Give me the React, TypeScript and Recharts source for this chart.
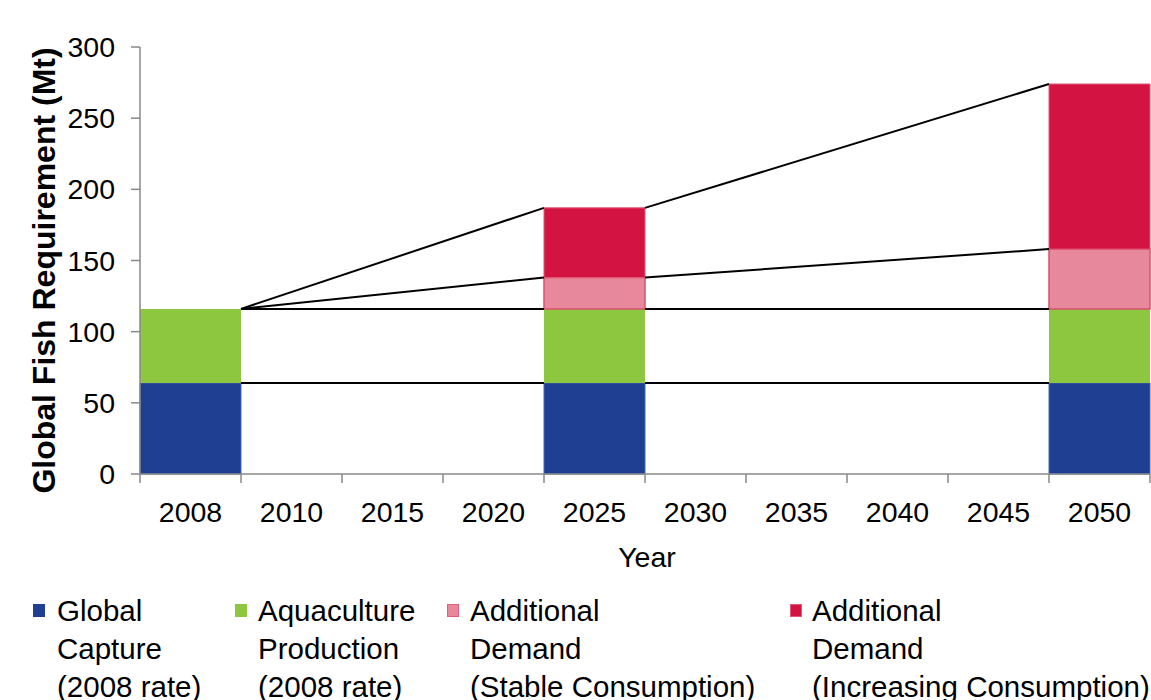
import React from 'react';
import { ComposedChart, Bar, Line, XAxis, YAxis, Label } from 'recharts';

// categories on the x axis
const years = ['2008', '2010', '2015', '2020', '2025', '2030', '2035', '2040', '2045', '2050'];

// stacked values (Mt), null where no bar is drawn
const captureValues = [64, null, null, null, 64, null, null, null, null, 64];
const aquacultureValues = [52, null, null, null, 52, null, null, null, null, 52];
const stableValues = [0, null, null, null, 22, null, null, null, null, 42];
const increasingValues = [0, null, null, null, 49, null, null, null, null, 116];

const yTicks = [0, 50, 100, 150, 200, 250, 300];

const FONT = '"Liberation Sans", Arial, sans-serif';
const W = 1151;
const H = 700;
const PLOT_LEFT = 140;
const PLOT_RIGHT = 1150;
const BAND = (PLOT_RIGHT - PLOT_LEFT) / years.length;

const COLORS = {
  capture: '#1f3f93',
  aqua: '#8dc63f',
  stable: '#e8889c',
  increasing: '#d31442',
};

const legendItems = [
  { color: COLORS.capture, lines: ['Global', 'Capture', '(2008 rate)'], mx: 33, tx: 57 },
  { color: COLORS.aqua, lines: ['Aquaculture', 'Production', '(2008 rate)'], mx: 235, tx: 258 },
  { color: COLORS.stable, border: '#e0607c', lines: ['Additional', 'Demand', '(Stable Consumption)'], mx: 447, tx: 470 },
  { color: COLORS.increasing, border: '#e35878', lines: ['Additional', 'Demand', '(Increasing Consumption)'], mx: 790, tx: 812 },
];

const data = years.map((year, i) => ({
  year,
  capture: captureValues[i],
  aqua: aquacultureValues[i],
  stable: stableValues[i] || null,
  increasing: increasingValues[i] || null,
}));

// cumulative levels for each bar year
const barIdx = years.map((_, i) => i).filter((i) => captureValues[i] != null);
const levels = (i: number) => {
  const c = captureValues[i] as number;
  const a = c + (aquacultureValues[i] as number);
  const s = a + (stableValues[i] as number);
  const t = s + (increasingValues[i] as number);
  return [c, a, s, t];
};

// connector segments from right edge of one bar to left edge of the next
const connectors: { x: number; y: number }[][] = [];
for (let k = 0; k < barIdx.length - 1; k++) {
  const from = barIdx[k];
  const to = barIdx[k + 1];
  const lf = levels(from);
  const lt = levels(to);
  for (let j = 0; j < 4; j++) {
    connectors.push([
      { x: from + 1, y: lf[j] },
      { x: to, y: lt[j] },
    ]);
  }
}

const XTick = (props: any) => {
  const { x, y, payload, index } = props;
  const left = x - BAND / 2;
  return (
    <g>
      <line x1={left} y1={y} x2={left} y2={y + 9} stroke="#888" strokeWidth={1.5} />
      {index === years.length - 1 && (
        <line x1={x + BAND / 2} y1={y} x2={x + BAND / 2} y2={y + 9} stroke="#888" strokeWidth={1.5} />
      )}
      <text x={x} y={y + 48} textAnchor="middle" fontFamily={FONT} fontSize={28.5} fill="#000">
        {payload.value}
      </text>
    </g>
  );
};

export default function App() {
  return (
    <div style={{ position: 'absolute', left: 0, top: 0, width: W, height: H, background: '#fff', overflow: 'hidden' }}>
      <ComposedChart
        width={W}
        height={H}
        data={data}
        margin={{ top: 47, right: W - PLOT_RIGHT, left: 0, bottom: 126 }}
        barCategoryGap={0}
        barGap={0}
      >
        <XAxis
          xAxisId="cat"
          dataKey="year"
          type="category"
          height={100}
          axisLine={{ stroke: '#888', strokeWidth: 1.5 }}
          tickLine={false}
          tickSize={0}
          tickMargin={0}
          interval={0}
          tick={<XTick />}
        >
          <Label
            content={(p: any) => {
              const vb = p.viewBox || {};
              return (
                <text x={vb.x + vb.width / 2 + 2} y={567} textAnchor="middle" fontFamily={FONT} fontSize={28.5} fill="#000">
                  Year
                </text>
              );
            }}
          />
        </XAxis>
        <XAxis xAxisId="num" dataKey="x" type="number" domain={[0, years.length]} hide allowDataOverflow />
        <YAxis
          width={PLOT_LEFT}
          domain={[0, 300]}
          ticks={yTicks}
          interval={0}
          axisLine={{ stroke: '#888', strokeWidth: 1.5 }}
          tickLine={{ stroke: '#888', strokeWidth: 1.5 }}
          tickSize={9}
          tickMargin={16}
          tick={{ fontFamily: FONT, fontSize: 28.5, fill: '#000' }}
        >
          <Label
            content={(p: any) => {
              const vb = p.viewBox || {};
              const cy = vb.y + vb.height / 2 + 10;
              return (
                <text
                  x={55}
                  y={cy}
                  transform={`rotate(-90, 55, ${cy})`}
                  textAnchor="middle"
                  fontFamily={FONT}
                  fontWeight="bold"
                  fontSize={32}
                  fill="#000"
                >
                  Global Fish Requirement (Mt)
                </text>
              );
            }}
          />
        </YAxis>
        <Bar xAxisId="cat" dataKey="capture" stackId="s" fill={COLORS.capture} stroke="#4566b8" strokeWidth={1} isAnimationActive={false} />
        <Bar xAxisId="cat" dataKey="aqua" stackId="s" fill={COLORS.aqua} isAnimationActive={false} />
        <Bar xAxisId="cat" dataKey="stable" stackId="s" fill={COLORS.stable} stroke="#d9506c" strokeWidth={1.5} isAnimationActive={false} />
        <Bar xAxisId="cat" dataKey="increasing" stackId="s" fill={COLORS.increasing} stroke="#e35878" strokeWidth={1} isAnimationActive={false} />
        {connectors.map((seg, i) => (
          <Line
            key={`c-${i}`}
            xAxisId="num"
            data={seg}
            dataKey="y"
            type="linear"
            stroke="#000"
            strokeWidth={2}
            dot={false}
            activeDot={false}
            isAnimationActive={false}
          />
        ))}
      </ComposedChart>
      {legendItems.map((it, i) => (
        <div key={i}>
          <div
            style={{
              position: 'absolute',
              left: it.mx,
              top: 604,
              width: 12,
              height: 13,
              background: it.color,
              boxSizing: 'border-box',
              border: it.border ? `1.5px solid ${it.border}` : 'none',
            }}
          />
          <div
            style={{
              position: 'absolute',
              left: it.tx,
              top: 592,
              fontFamily: FONT,
              fontSize: 29.5,
              lineHeight: '38px',
              color: '#000',
              whiteSpace: 'nowrap',
            }}
          >
            {it.lines.map((l, j) => (
              <div key={j}>{l}</div>
            ))}
          </div>
        </div>
      ))}
    </div>
  );
}
